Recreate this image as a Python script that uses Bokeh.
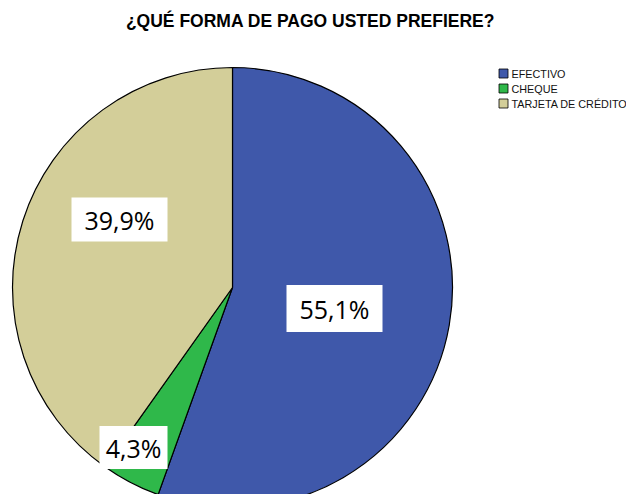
import math
from bokeh.plotting import figure
from bokeh.models import Range1d, ColumnDataSource
from bokeh.core.properties import value
from bokeh.embed import file_html
from bokeh.resources import INLINE

# ---- data ----
categories = ["EFECTIVO", "CHEQUE", "TARJETA DE CRÉDITO"]
percents = [55.1, 4.3, 39.9]
labels = ["55,1%", "4,3%", "39,9%"]
colors = ["#3F58AA", "#2FB84A", "#D3CE99"]

# ---- layout (pixel coordinates of the page, y downward -> negated) ----
W, H = 626, 494
OFF = 0
cx, cy, R = 232, 287, 220
label_pos = [(334, 308), (133, 447), (119, 219)]
label_box = [(96, 47), (68, 43), (96, 44)]

def X(px):
    return px - OFF

def Y(py):
    return -(py - OFF)

p = figure(width=W, height=H, output_backend="svg", toolbar_location=None,
           x_range=Range1d(0, W), y_range=Range1d(-H, 0),
           min_border=0, outline_line_color=None)
p.axis.visible = False
p.grid.visible = False
p.background_fill_color = "white"
p.border_fill_color = "white"

total = sum(percents)
starts, ends = [], []
a = math.pi / 2
for v in percents:
    starts.append(a)
    a -= 2 * math.pi * v / total
    ends.append(a)

src = ColumnDataSource(dict(start=starts, end=ends, color=colors, cat=categories))
p.wedge(x=X(cx), y=Y(cy), radius=R, start_angle="start", end_angle="end",
        direction="clock", fill_color="color", line_color="black",
        line_width=1.2, source=src)

# value labels
bx = [X(x) for x, _ in label_pos]
by = [Y(y) for _, y in label_pos]
p.rect(x=bx, y=by, width=[w for w, _ in label_box], height=[h for _, h in label_box],
       fill_color="white", line_color=None)
p.text(x=bx, y=by, text=labels, text_align="center", text_baseline="middle",
       text_font=value("Open Sans"), text_font_size="25px", text_color="black")

# title
p.text(x=[X(310)], y=[Y(20)], text=["¿QUÉ FORMA DE PAGO USTED PREFIERE?"],
       text_align="center", text_baseline="middle",
       text_font=value("Liberation Sans"), text_font_size="17.5px",
       text_font_style="bold", text_color="black")

# legend
ly = [73, 88, 103]
p.rect(x=[X(503)] * 3, y=[Y(v) for v in ly], width=9, height=9,
       fill_color=colors, line_color="black", line_width=0.8)
p.text(x=[X(511)] * 3, y=[Y(v) for v in ly], text=categories,
       text_align="left", text_baseline="middle",
       text_font=value("Liberation Sans"), text_font_size="10.8px",
       text_color="#111111")

open("out.html", "w").write(file_html(p, INLINE))
